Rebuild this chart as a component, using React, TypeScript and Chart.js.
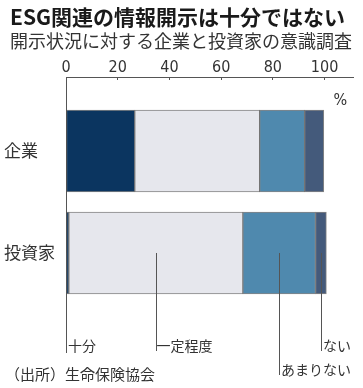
import React, { useEffect, useRef } from 'react';
import { Chart, registerables } from 'chart.js';

Chart.register(...registerables);

// ---- data ----
const categories = ['企業', '投資家'];
const seriesNames = ['十分', '一定程度', 'あまりない', 'ない'];
const sufficient = [26.6, 1.1];
const somewhat = [48.3, 67.3];
const notMuch = [17.4, 28.1];
const notAtAll = [7.4, 4.2];
const xTickValues = [0, 20, 40, 60, 80, 100];
const seriesColors = ['#0b3560', '#e6e7ed', '#4f89ae', '#445a7b'];

const JP = '"Noto Sans CJK JP", "Noto Sans", sans-serif';
const NUM = '"Liberation Sans Narrow", "DejaVu Sans Condensed", "Liberation Sans", sans-serif';

const seriesValues = [sufficient, somewhat, notMuch, notAtAll];

const leaderPlugin = {
  id: 'leaders',
  afterDraw(chart: any) {
    const { ctx, scales } = chart;
    const x = scales.x;
    const y = scales.y;
    const rowIndex = 1;
    const rowY = y.getPixelForValue(rowIndex);
    const labelRows = [346, 346, 370, 346];
    ctx.save();
    ctx.strokeStyle = '#555';
    ctx.lineWidth = 1;
    ctx.fillStyle = '#333';
    ctx.font = `14px ${JP}`;
    ctx.textBaseline = 'middle';
    ctx.textAlign = 'left';
    let cum = 0;
    seriesValues.forEach((arr, i) => {
      const start = cum;
      cum += arr[rowIndex];
      const anchor = i === 0 ? start : (start + cum) / 2;
      const px = Math.round(x.getPixelForValue(anchor)) + 0.5;
      const ty = labelRows[i];
      ctx.beginPath();
      ctx.moveTo(px, rowY);
      ctx.lineTo(px, ty + 5);
      ctx.stroke();
      ctx.fillText(seriesNames[i], px + (i === 1 ? 0 : 1.5), ty);
    });
    // unit label
    ctx.font = `16px ${NUM}`;
    ctx.fillText('%', x.getPixelForValue(100) + 9, chart.chartArea.top + 24);
    ctx.restore();
  },
};

export default function App() {
  const canvasRef = useRef<HTMLCanvasElement | null>(null);

  useEffect(() => {
    if (!canvasRef.current) return;
    const chart = new Chart(canvasRef.current, {
      type: 'bar',
      data: {
        datasets: seriesNames.map((name, i) => ({
          label: name,
          data: seriesValues[i].map((v, j) => ({ x: v, y: j })),
          backgroundColor: seriesColors[i],
          borderColor: 'rgba(80,80,80,0.7)',
          borderWidth: 1,
          borderSkipped: false,
          barThickness: 82,
        })),
      },
      options: {
        indexAxis: 'y',
        animation: false,
        responsive: true,
        maintainAspectRatio: false,
        events: [],
        layout: { padding: { left: 4, right: 10, top: 0, bottom: 36 } },
        plugins: {
          legend: { display: false },
          tooltip: { enabled: false },
          title: { display: false },
        },
        scales: {
          x: {
            type: 'linear',
            position: 'top',
            stacked: true,
            min: 0,
            max: 111,
            afterBuildTicks: (s: any) => {
              s.ticks = xTickValues.map((v) => ({ value: v }));
            },
            afterFit: (s: any) => {
              s.height = 77;
            },
            grid: {
              display: true,
              drawOnChartArea: false,
              drawTicks: true,
              tickLength: -3,
              color: '#555',
            },
            border: { display: true, color: '#555', width: 1 },
            ticks: {
              font: { family: NUM, size: 16 },
              color: '#333',
              padding: 3,
              maxRotation: 0,
              autoSkip: false,
            },
          },
          y: {
            type: 'linear',
            reverse: true,
            stacked: true,
            offset: false,
            min: -0.7255,
            max: 1.9706,
            afterBuildTicks: (s: any) => {
              s.ticks = categories.map((_, i) => ({ value: i }));
            },
            afterFit: (s: any) => {
              s.width = 62;
            },
            grid: { display: false, offset: false },
            border: { display: true, color: '#555', width: 1 },
            ticks: {
              callback: (v: any) => categories[v] ?? '',
              font: { family: JP, size: 17 },
              color: '#333',
              crossAlign: 'far',
              padding: 0,
              autoSkip: false,
            },
          },
        },
      } as any,
      plugins: [leaderPlugin],
    });
    return () => chart.destroy();
  }, []);

  return (
    <div
      style={{
        position: 'absolute',
        left: 0,
        top: 0,
        width: 363,
        height: 388,
        background: '#fff',
        overflow: 'hidden',
      }}
    >
      <canvas ref={canvasRef} style={{ position: 'absolute', left: 0, top: 0 }} />
      <div
        style={{
          position: 'absolute',
          left: 10,
          top: 4,
          fontFamily: JP,
          fontWeight: 700,
          fontSize: 21,
          lineHeight: '24px',
          color: '#1a1a1a',
          whiteSpace: 'nowrap',
        }}
      >
        ESG関連の情報開示は十分ではない
      </div>
      <div
        style={{
          position: 'absolute',
          left: 10,
          top: 28.5,
          fontFamily: JP,
          fontSize: 18,
          lineHeight: '22px',
          color: '#333',
          whiteSpace: 'nowrap',
        }}
      >
        開示状況に対する企業と投資家の意識調査
      </div>
      <div
        style={{
          position: 'absolute',
          left: 5,
          top: 364,
          fontFamily: JP,
          fontSize: 15,
          lineHeight: '20px',
          color: '#333',
          whiteSpace: 'nowrap',
        }}
      >
        （出所）生命保険協会
      </div>
    </div>
  );
}
